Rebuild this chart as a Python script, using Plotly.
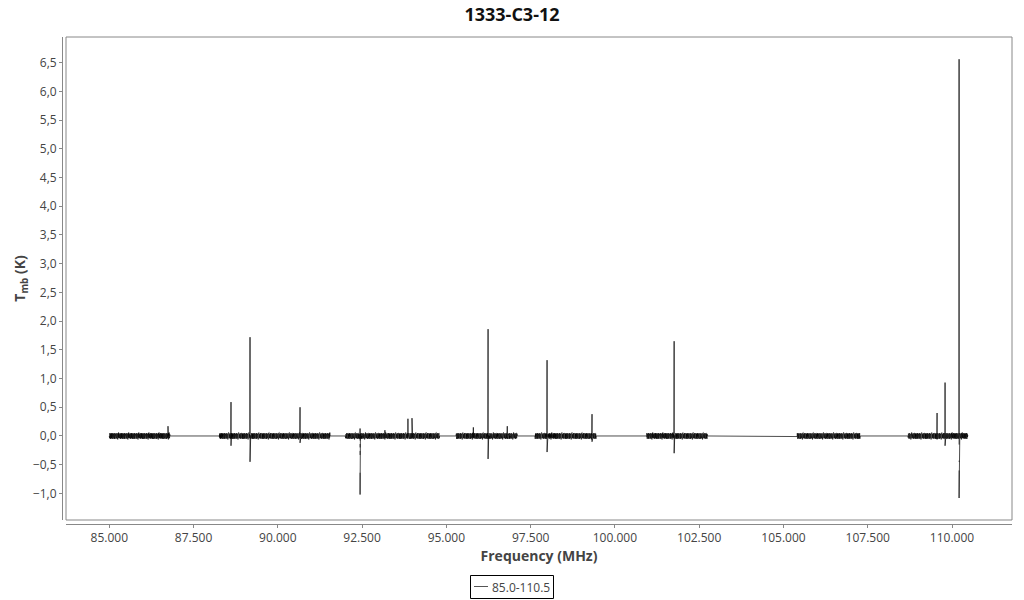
import numpy as np
import plotly.graph_objects as go

# ---- data (frequencies in MHz, Tmb in K) ----
SEG_START = [85000, 88260, 92000, 95290, 97630, 100930, 105400, 108690]
SEG_END = [86800, 91550, 94800, 97100, 99440, 102740, 107280, 110470]
CHANNEL_MHZ = 6.0

NOISE = [0.03, -0.04, 0.05, -0.02, 0.01, -0.05, 0.04, -0.03, 0.02, 0.05,
         -0.04, 0.00, 0.04, -0.05, 0.03, -0.01, 0.05, -0.03, -0.05, 0.02,
         0.04, -0.02, 0.01, -0.04, 0.05, -0.05, 0.03, 0.00, -0.03, 0.04,
         -0.01, 0.02, -0.05, 0.05, -0.02, 0.03, -0.04, 0.01, 0.04, -0.03,
         0.02, -0.06, 0.05, 0.01, -0.03, 0.06, -0.02, -0.04, 0.03, -0.01]

# spectral lines: frequency and the vertical run of values drawn there
SPIKE_FREQ = [86742, 88611, 89175, 90659, 92440, 93177, 93860, 93980,
              95800, 96237, 96807, 97987, 99321, 101757, 109557, 109794,
              110210]
SPIKE_VALUES = [
    [0.17, 0.0],
    [0.59, -0.17],
    [1.72, -0.45],
    [0.50, -0.12],
    [0.13, -0.08, None, -0.14, -0.20, None, -0.26, -0.33, None, -0.64, -1.02],
    [0.10, -0.03],
    [0.30, -0.03],
    [0.31, -0.04],
    [0.15, -0.04],
    [1.86, -0.40],
    [0.17, -0.04],
    [1.32, -0.28],
    [0.38, -0.10],
    [1.65, -0.30],
    [0.40, -0.06],
    [0.93, -0.17],
    [6.56, -0.15, None, -0.43, -0.45, None, -0.60, -1.08],
]

TICK_VALS = [85000, 87500, 90000, 92500, 95000, 97500, 100000, 102500,
             105000, 107500, 110000]
SERIES_NAME = "85.0-110.5"

# ---- build the trace ----
xs, ys = [], []
k = 0
for s, e in zip(SEG_START, SEG_END):
    chans = np.arange(s, e + CHANNEL_MHZ / 2, CHANNEL_MHZ)
    for i, c in enumerate(chans):
        if i == 0 or i == len(chans) - 1:
            v = 0.0
        else:
            v = NOISE[k % len(NOISE)]
            k += 1
        xs.append(float(c))
        ys.append(v)
        if i < len(chans) - 1:
            nxt = chans[i + 1]
            for f, vals in zip(SPIKE_FREQ, SPIKE_VALUES):
                if c <= f < nxt:
                    for val in vals:
                        xs.append(float(f) if val is not None else None)
                        ys.append(val)

fig = go.Figure()
fig.add_trace(go.Scatter(
    x=xs, y=ys, mode="lines", name=SERIES_NAME,
    line=dict(color="#000000", width=0.7),
    connectgaps=False, showlegend=False, hoverinfo="skip",
))

L, R, T, B = 62, 12, 37, 76
W, H = 1024, 600
pw, ph = W - L - R, H - T - B
dx = 4 / pw
dy = 4 / ph


def px_x(p):
    return (p - L) / pw


def px_y(p):
    return (H - B - p) / ph


fig.update_layout(
    width=W, height=H, autosize=False,
    margin=dict(l=L, r=R, t=T, b=B, autoexpand=False),
    paper_bgcolor="white", plot_bgcolor="white",
    separators=",.",
    showlegend=False,
    font=dict(family="Open Sans", color="#444"),
    title=dict(text="<b>1333-C3-12</b>", x=0.5, xanchor="center",
               y=1 - 15 / H, yanchor="middle",
               font=dict(size=18, color="#111", family="Open Sans")),
    xaxis=dict(
        domain=[dx, 1], range=[83716, 111780], anchor="free", position=0,
        automargin=False,
        tickvals=TICK_VALS, tickformat=",d",
        showline=True, linecolor="#888", linewidth=1,
        ticks="outside", ticklen=3, tickcolor="#888",
        showgrid=False, zeroline=False,
        tickfont=dict(size=12, color="#444"),
        title=dict(text="<b>Frequency (MHz)</b>", standoff=4,
                   font=dict(size=14, color="#444")),
    ),
    yaxis=dict(
        domain=[dy, 1], range=[-1.463, 6.947], anchor="free", position=0,
        automargin=False,
        dtick=0.5, tick0=0, tickformat=".1f",
        showline=True, linecolor="#888", linewidth=1,
        ticks="outside", ticklen=3, tickcolor="#888",
        showgrid=False, zeroline=False,
        tickfont=dict(size=12, color="#444"),
        title=dict(text="<b>T<sub>mb</sub> (K)</b>", standoff=2,
                   font=dict(size=14, color="#444")),
    ),
    shapes=[
        dict(type="rect", xref="paper", yref="paper",
             x0=dx, x1=1, y0=dy, y1=1,
             line=dict(color="#888", width=1), layer="above"),
        # legend box and line sample
        dict(type="rect", xref="paper", yref="paper",
             x0=px_x(470.5), x1=px_x(553.5), y0=px_y(598.5), y1=px_y(575.5),
             line=dict(color="#000", width=1), fillcolor="white"),
        dict(type="line", xref="paper", yref="paper",
             x0=px_x(474), x1=px_x(488), y0=px_y(586.5), y1=px_y(586.5),
             line=dict(color="#555", width=1)),
    ],
    annotations=[
        dict(text=SERIES_NAME, xref="paper", yref="paper",
             x=px_x(490), y=px_y(587), xanchor="left", yanchor="middle",
             showarrow=False, font=dict(size=12, color="#444")),
    ],
)

fig.write_html(
    "out.html",
    config={"displayModeBar": False},
    post_script="document.body.style.margin='0';document.body.style.overflow='hidden';",
)
